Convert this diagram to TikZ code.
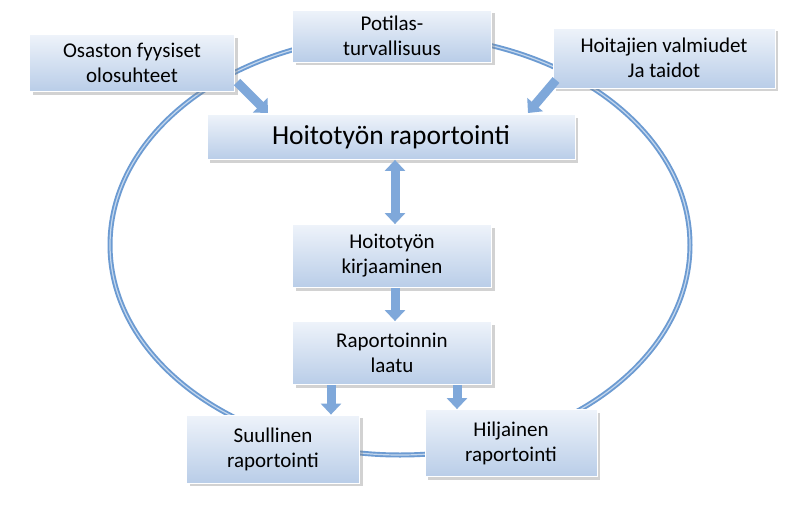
\documentclass[tikz,border=0pt]{standalone}
\usepackage{fontspec}
\setmainfont{Carlito}
\usetikzlibrary{arrows.meta,shadows}
\definecolor{btop}{HTML}{EEF3FA}
\definecolor{bbot}{HTML}{B9CDE8}
\definecolor{arc}{HTML}{7FA8DA}
\definecolor{ell}{HTML}{6C9BD2}
\begin{document}
\begin{tikzpicture}[x=1pt,y=-1pt,
  bx/.style={draw=white,line width=0.8pt,top color=btop,bottom color=bbot,
    drop shadow={shadow xshift=3pt,shadow yshift=-3pt,opacity=0.35},
    align=center,font=\fontsize{21}{25}\selectfont,inner sep=0pt},
  ar/.style={draw=arc,line width=9pt,-{Triangle[width=20pt,length=11pt]}},
  ar2/.style={draw=arc,line width=9pt,{Triangle[width=20pt,length=11pt]}-{Triangle[width=20pt,length=11pt]}}]
\useasboundingbox (0,0) rectangle (796,514);
\fill[white] (0,0) rectangle (796,514);
\draw[ell,line width=5pt] (400,245) ellipse [x radius=290,y radius=210];
\draw[ell!40!white,line width=1.2pt] (400,245) ellipse [x radius=290,y radius=210];
\node[bx,minimum width=199,minimum height=52] (pt) at (392,36) {Potilas-\\turvallisuus};
\node[bx,minimum width=205,minimum height=57] (os) at (132,63) {Osaston fyysiset\\olosuhteet};
\node[bx,minimum width=222,minimum height=60] (hv) at (664,58) {Hoitajien valmiudet\\Ja taidot};
\node[bx,minimum width=368,minimum height=45,font=\fontsize{27.5}{30}\selectfont] (hr) at (391,137) {Hoitotyön raportointi};
\node[bx,minimum width=199,minimum height=63] (hk) at (392,256) {Hoitotyön\\kirjaaminen};
\node[bx,minimum width=199,minimum height=63] (rl) at (392,353) {Raportoinnin\\laatu};
\node[bx,minimum width=173,minimum height=68] (su) at (273,449) {Suullinen\\raportointi};
\node[bx,minimum width=172,minimum height=67] (hi) at (511,443) {Hiljainen\\raportointi};
\coordinate (a1) at (237,82); \coordinate (a2) at (268,113);
\coordinate (b1) at (556,80); \coordinate (b2) at (528,113);
\draw[ar] (a1) -- (a2);
\draw[ar] (b1) -- (b2);
\draw[ar2] (hr.south -| 395,0) -- (hk.north -| 395,0);
\draw[ar] (hk.south -| 395,0) -- (rl.north -| 395,0);
\draw[ar] (rl.south -| 331,0) -- (su.north -| 331,0);
\draw[ar] (rl.south -| 457,0) -- (hi.north -| 457,0);
\end{tikzpicture}
\end{document}
